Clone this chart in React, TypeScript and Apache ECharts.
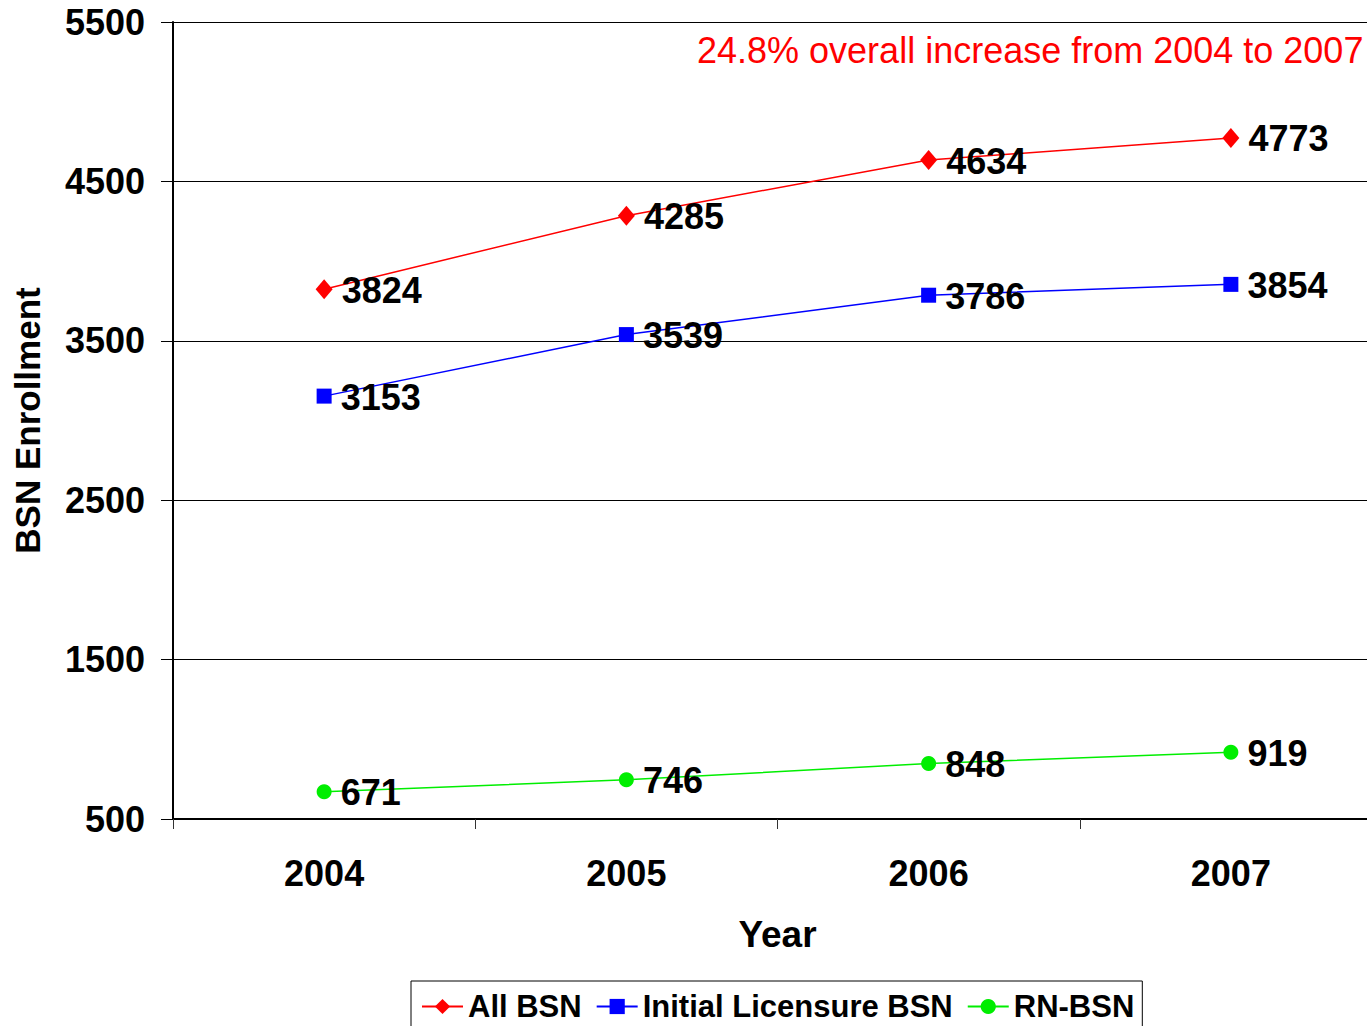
import React, { useEffect, useRef } from "react";
import * as echarts from "echarts";

const years = ["2004", "2005", "2006", "2007"];
const allBSN = [3824, 4285, 4634, 4773];
const initialLicensureBSN = [3153, 3539, 3786, 3854];
const rnBSN = [671, 746, 848, 919];
const seriesNames = ["All BSN", "Initial Licensure BSN", "RN-BSN"];
const seriesColors = ["#ff0000", "#0000ff", "#00ee00"];
const annotation = "24.8% overall increase from 2004 to 2007";
const yMin = 500;
const yMax = 5500;
const yStep = 1000;

const FONT = "'Liberation Sans', Arial, sans-serif";

export default function App() {
  const ref = useRef<HTMLDivElement>(null);
  useEffect(() => {
    if (!ref.current) return;
    const chart = echarts.init(ref.current, null, { renderer: "svg" });
    const label = {
      show: true,
      position: "right",
      distance: 9,
      offset: [0, 1],
      color: "#000",
      fontSize: 36,
      fontWeight: "bold",
      fontFamily: FONT,
    };
    const mk = (name: string, data: number[], color: string, symbol: string, size: any) => ({
      name,
      type: "line",
      data,
      symbol,
      symbolSize: size,
      showSymbol: true,
      lineStyle: { color, width: 1.5 },
      itemStyle: { color },
      label,
      z: 3,
    });
    chart.setOption({
      animation: false,
      backgroundColor: "#fff",
      textStyle: { fontFamily: FONT },
      grid: { left: 173, right: 0, top: 22, bottom: 207, containLabel: false },
      xAxis: {
        type: "category",
        data: years,
        boundaryGap: true,
        name: "Year",
        nameLocation: "middle",
        nameGap: 97,
        nameTextStyle: { fontSize: 37, fontWeight: "bold", color: "#000", fontFamily: FONT, verticalAlign: "top" },
        axisLine: { lineStyle: { color: "#000", width: 2 } },
        axisTick: { show: true, length: 10, alignWithLabel: false, lineStyle: { color: "#333", width: 1 } },
        axisLabel: { fontSize: 36, fontWeight: "bold", color: "#000", margin: 36, fontFamily: FONT },
        splitLine: { show: false },
      },
      yAxis: {
        type: "value",
        min: yMin,
        max: yMax,
        interval: yStep,
        name: "BSN Enrollment",
        nameLocation: "middle",
        nameGap: 128,
        nameTextStyle: { fontSize: 35, fontWeight: "bold", color: "#000", fontFamily: FONT },
        axisLine: { show: true, lineStyle: { color: "#000", width: 2 } },
        axisTick: { show: true, length: 12, lineStyle: { color: "#000", width: 1 } },
        axisLabel: {
          fontSize: 36,
          fontWeight: "bold",
          color: "#000",
          margin: 28,
          fontFamily: FONT,
          formatter: (v: number) => String(v),
        },
        splitLine: { show: true, lineStyle: { color: "#000", width: 1 } },
      },
      legend: {
        left: 411,
        top: 981,
        orient: "horizontal",
        borderColor: "#000",
        borderWidth: 1,
        padding: [10, 8, 10, 10],
        itemGap: 14,
        itemWidth: 41,
        itemHeight: 19,
        textStyle: { fontSize: 31, fontWeight: "bold", color: "#000", fontFamily: FONT },
        data: seriesNames,
      },
      graphic: [
        {
          type: "text",
          left: 697,
          top: 32,
          style: {
            text: annotation,
            fill: "#ff0000",
            fontSize: 36,
            fontFamily: FONT,
          },
        },
      ],
      series: [
        mk(seriesNames[0], allBSN, seriesColors[0], "diamond", [17, 20]),
        mk(seriesNames[1], initialLicensureBSN, seriesColors[1], "rect", 15),
        mk(seriesNames[2], rnBSN, seriesColors[2], "circle", 15),
      ],
    });
    return () => chart.dispose();
  }, []);
  return (
    <div style={{ position: "absolute", left: 0, top: 0, width: 1367, height: 1026, overflow: "hidden" }}>
      <div ref={ref} style={{ width: 1382, height: 1026 }} />
    </div>
  );
}
